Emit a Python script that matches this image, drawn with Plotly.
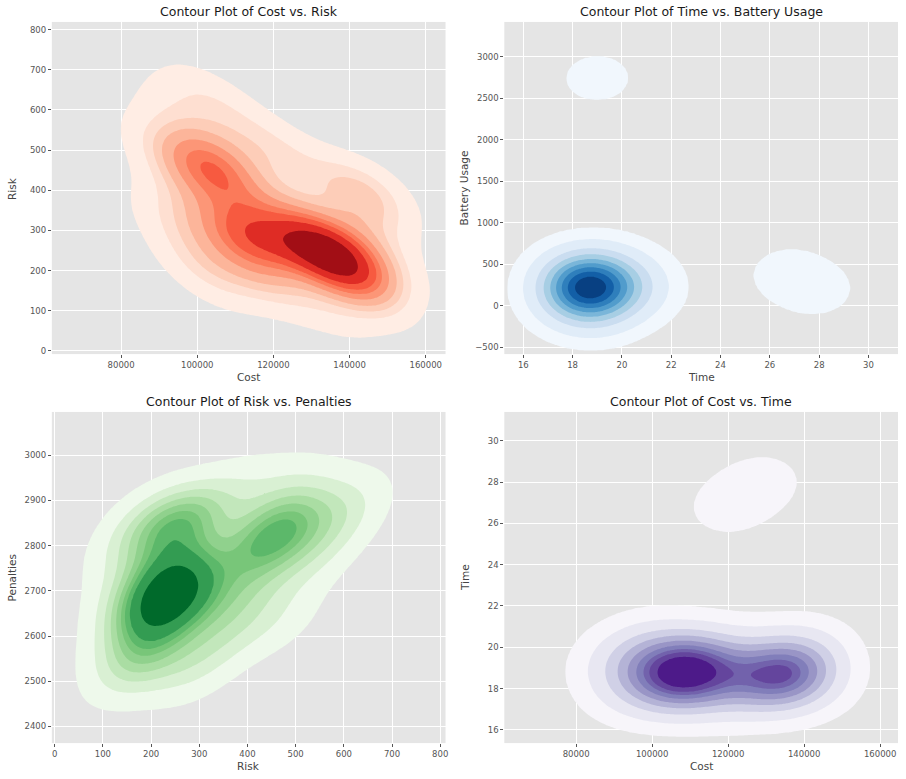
import numpy as np
import plotly.graph_objects as go

# ---------------- data (estimated observations) ----------------
cr_cost = [129000, 131000, 132500, 134000, 135000, 136000, 137500, 139000, 140500, 142000, 133000, 138000, 135000, 130000,
           111000, 114000, 117000, 120000, 123000, 110000, 113000, 118000,
           101500, 103500, 106000, 103000, 105500, 100500, 107000,
           90000, 94000, 100000, 109000, 118000, 138000, 145000, 150000, 146000,
           136000, 122000, 108000, 99000, 95000, 112000, 124000, 115000, 142000,
           98000, 105000, 92000, 146000, 145000, 124000]
cr_risk = [280, 270, 258, 250, 240, 232, 225, 215, 205, 195, 235, 245, 215, 250,
           285, 282, 280, 278, 275, 290, 275, 288,
           480, 455, 440, 425, 490, 450, 465,
           520, 600, 650, 590, 500, 410, 330, 210, 130,
           95, 150, 230, 340, 430, 380, 360, 200, 290,
           230, 170, 330, 390, 400, 490]

tb_time = [18.6, 18.7, 18.5, 18.8, 18.6, 18.7, 18.4, 18.9, 18.5, 18.8, 18.6, 18.7, 18.3, 19.0, 18.4, 18.9, 18.2, 19.1, 18.6, 18.7,
           18.0, 18.1, 19.6, 19.9, 18.1, 19.3, 20.3, 18.0, 20.5, 19.4, 18.0, 20.7, 18.6, 19.2,
           19.0, 26.7, 27.9]
tb_battery = [230, 240, 220, 250, 260, 210, 240, 230, 270, 200, 190, 280, 210, 260, 300, 170, 250, 220, 330, 140,
              330, 60, 350, 150, 450, 30, 250, 180, 320, 480, 0, 150, -60, -80,
              2740, 390, 190]

rp_risk = [215, 230, 250, 245, 265, 225, 220, 255, 200, 270, 240,
           420, 455, 445, 480, 430, 470,
           245, 270, 255, 285, 235,
           150, 155, 180,
           150, 170, 200, 250, 300, 160,
           550, 620, 580, 380, 480, 530,
           400, 470, 350, 320, 380]
rp_penalties = [2690, 2710, 2730, 2665, 2700, 2650, 2740, 2645, 2670, 2750, 2690,
                2800, 2850, 2790, 2830, 2840, 2805,
                2845, 2860, 2825, 2840, 2870,
                2790, 2700, 2860,
                2600, 2550, 2580, 2540, 2520, 2520,
                2900, 2890, 2830, 2930, 2930, 2760,
                2660, 2630, 2600, 2680, 2700]

ct_cost = [102000, 104000, 106000, 107000, 108000, 109000, 110000, 111000, 112000, 105000, 108000, 113000, 100000, 114000,
           131000, 132500, 134000, 135000, 136500, 133000, 137500, 135500,
           120000, 124000,
           90000, 92000, 95000, 97000, 115000, 118000, 128000, 127000, 142000, 143000, 100000, 140000,
           120000, 129000]
ct_time = [18.8, 18.1, 19.4, 18.6, 19.0, 18.3, 19.3, 18.7, 19.1, 18.9, 18.0, 18.5, 19.1, 18.9,
           18.7, 18.5, 18.8, 18.5, 18.7, 18.6, 18.9, 18.3,
           18.8, 18.6,
           19.3, 18.2, 19.8, 17.8, 19.9, 17.6, 19.7, 17.9, 19.3, 18.1, 20.2, 20.0,
           26.8, 28.0]

titles = ["Contour Plot of Cost vs. Risk", "Contour Plot of Time vs. Battery Usage",
          "Contour Plot of Risk vs. Penalties", "Contour Plot of Cost vs. Time"]
x_labels = ["Cost", "Time", "Risk", "Cost"]
y_labels = ["Risk", "Battery Usage", "Penalties", "Time"]

x_ticks = [[80000, 100000, 120000, 140000, 160000],
           [16, 18, 20, 22, 24, 26, 28, 30],
           [0, 100, 200, 300, 400, 500, 600, 700, 800],
           [80000, 100000, 120000, 140000, 160000]]
y_ticks = [[0, 100, 200, 300, 400, 500, 600, 700, 800],
           [-500, 0, 500, 1000, 1500, 2000, 2500, 3000],
           [2400, 2500, 2600, 2700, 2800, 2900, 3000],
           [16, 18, 20, 22, 24, 26, 28, 30]]

x_ranges = [[61800, 165200], [15.23, 31.2], [-6, 811], [61100, 164700]]
y_ranges = [[-8, 819], [-580, 3416], [2363, 3096], [15.36, 31.4]]

cmaps = {
    "Reds": ["#fff5f0", "#fee0d2", "#fcbba1", "#fc9272", "#fb6a4a", "#ef3b2c", "#cb181d", "#a50f15", "#67000d"],
    "Blues": ["#f7fbff", "#deebf7", "#c6dbef", "#9ecae1", "#6baed6", "#4292c6", "#2171b5", "#08519c", "#08306b"],
    "Greens": ["#f7fcf5", "#e5f5e0", "#c7e9c0", "#a1d99b", "#74c476", "#41ab5d", "#238b45", "#006d2c", "#00441b"],
    "Purples": ["#fcfbfd", "#efedf5", "#dadaeb", "#bcbddc", "#9e9ac8", "#807dba", "#6a51a3", "#54278f", "#3f007d"],
}
panel_cmaps = ["Reds", "Blues", "Greens", "Purples"]


def hex_to_rgb(h):
    h = h.lstrip("#")
    return np.array([int(h[i:i + 2], 16) for i in (0, 2, 4)], dtype=float)


def cmap_color(name, t):
    cols = np.array([hex_to_rgb(c) for c in cmaps[name]])
    pos = np.linspace(0, 1, len(cols))
    rgb = [np.interp(t, pos, cols[:, i]) for i in range(3)]
    return "rgb(%d,%d,%d)" % tuple(int(round(v)) for v in rgb)


def kde_grid(x, y, gridsize=200, cut=3):
    data = np.vstack([x, y]).astype(float)
    n = data.shape[1]
    factor = n ** (-1.0 / 6)
    cov = np.cov(data) * factor ** 2
    inv = np.linalg.inv(cov)
    norm = 1.0 / (2 * np.pi * np.sqrt(np.linalg.det(cov)) * n)
    bw = np.sqrt(np.diag(cov))
    gx = np.linspace(data[0].min() - cut * bw[0], data[0].max() + cut * bw[0], gridsize)
    gy = np.linspace(data[1].min() - cut * bw[1], data[1].max() + cut * bw[1], gridsize)
    XX, YY = np.meshgrid(gx, gy)
    dx = XX[..., None] - data[0]
    dy = YY[..., None] - data[1]
    q = inv[0, 0] * dx * dx + 2 * inv[0, 1] * dx * dy + inv[1, 1] * dy * dy
    dens = np.exp(-0.5 * q).sum(-1) * norm
    return gx, gy, dens


def iso_levels(dens, thresh=0.05, nlev=10):
    iso = np.linspace(thresh, 1, nlev)
    vals = np.sort(dens.ravel())[::-1]
    cum = np.cumsum(vals) / vals.sum()
    idx = np.searchsorted(cum, 1 - iso)
    return np.take(vals, idx, mode="clip")


panels = [(cr_cost, cr_risk), (tb_time, tb_battery), (rp_risk, rp_penalties), (ct_cost, ct_time)]

# pixel layout of the 906x779 canvas
W, H = 906, 779
x_dom_px = [(52, 447), (506, 901), (52, 447), (506, 901)]
y_dom_px = [(22, 355), (22, 355), (413, 745), (413, 745)]

fig = go.Figure()
layout = dict(
    width=W, height=H, margin=dict(l=0, r=0, t=0, b=0),
    paper_bgcolor="white", plot_bgcolor="#e5e5e5", showlegend=False,
    font=dict(family="DejaVu Sans", color="#555555"),
)
annotations = []

for i, (xs, ys) in enumerate(panels):
    gx, gy, dens = kde_grid(xs, ys)
    lev = iso_levels(dens)
    nl = len(lev)
    zt = np.where(dens < lev[0], dens / lev[0] - 1.0, np.interp(dens, lev, np.arange(nl)))
    mids = (lev[:-1] + lev[1:]) / 2.0
    tvals = (mids - lev[0]) / (lev[-1] - lev[0])
    band_cols = [cmap_color(panel_cmaps[i], t) for t in tvals]
    cs = [[0.0, "rgba(0,0,0,0)"]]
    for k, c in enumerate(band_cols):
        cs.append([(k + 1) / nl, c])
    cs.append([1.0, band_cols[-1]])

    ax = "" if i == 0 else str(i + 1)
    fig.add_trace(go.Contour(
        x=gx, y=gy, z=zt, xaxis="x" + ax, yaxis="y" + ax,
        autocontour=False,
        contours=dict(start=0, end=nl - 1, size=1, coloring="fill", showlines=False),
        colorscale=cs, showscale=False, line=dict(width=0, smoothing=0.8),
        hoverinfo="skip",
    ))

    x0, x1 = x_dom_px[i]
    y0, y1 = y_dom_px[i]
    xd = [x0 / W, x1 / W]
    yd = [1 - y1 / H, 1 - y0 / H]
    common = dict(showgrid=True, gridcolor="white", gridwidth=1, zeroline=False,
                  showline=False, ticks="outside", ticklen=3, tickwidth=1, tickcolor="#555555",
                  tickfont=dict(size=8.5, color="#555555", family="DejaVu Sans"))
    layout["xaxis" + ax] = dict(domain=xd, range=x_ranges[i], tickmode="array",
                                tickvals=x_ticks[i], ticktext=[str(v) for v in x_ticks[i]],
                                anchor="y" + ax, **common)
    layout["yaxis" + ax] = dict(domain=yd, range=y_ranges[i], tickmode="array",
                                tickvals=y_ticks[i], ticktext=[str(v).replace("-", "\u2212") for v in y_ticks[i]],
                                anchor="x" + ax, **common)

    cx = (x0 + x1) / 2 / W
    annotations.append(dict(text=titles[i], x=cx, y=1 - (y0 - 10) / H, xref="paper", yref="paper",
                            xanchor="center", yanchor="middle", showarrow=False,
                            font=dict(size=12.5, color="#1a1a1a", family="DejaVu Sans")))
    annotations.append(dict(text=x_labels[i], x=cx, y=1 - (y1 + 23) / H, xref="paper", yref="paper",
                            xanchor="center", yanchor="middle", showarrow=False,
                            font=dict(size=10.5, color="#444444", family="DejaVu Sans")))
    annotations.append(dict(text=y_labels[i], x=(x0 - 40) / W, y=1 - (y0 + y1) / 2 / H, xref="paper",
                            yref="paper", xanchor="center", yanchor="middle", showarrow=False,
                            textangle=-90,
                            font=dict(size=10.5, color="#444444", family="DejaVu Sans")))

layout["annotations"] = annotations
fig.update_layout(**layout)
fig.write_html("out.html")
